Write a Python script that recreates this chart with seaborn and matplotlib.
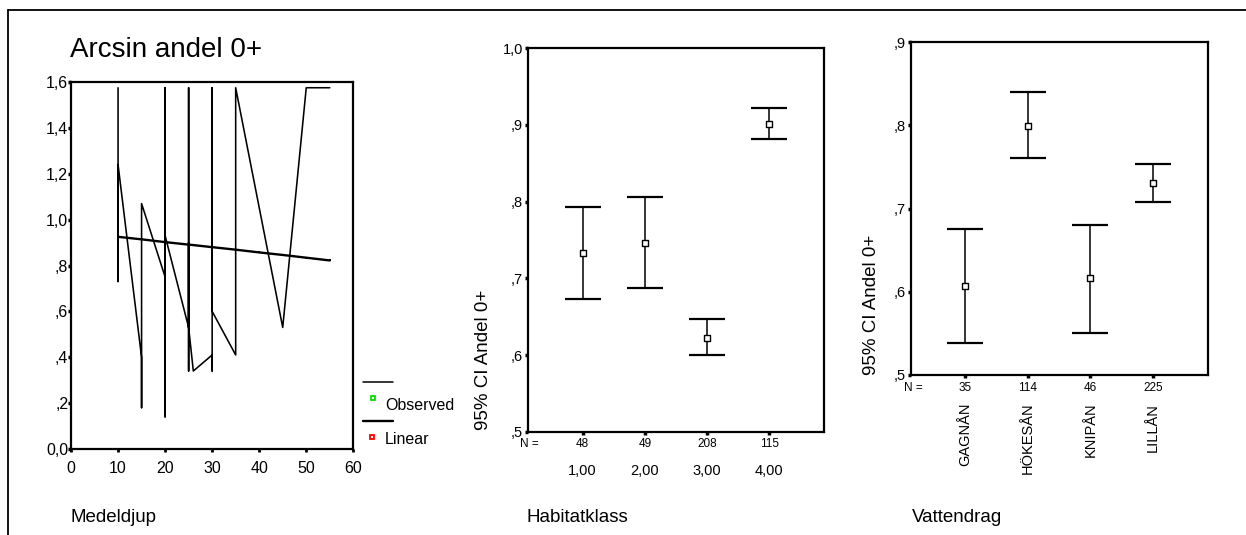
import numpy as np
import pandas as pd
import matplotlib
matplotlib.use("Agg")
import matplotlib.pyplot as plt
from matplotlib.lines import Line2D
import seaborn as sns

# ---------------- data ----------------
# Panel 1: observed arcsin share vs mean depth (connected in data order, SPSS curve-fit style)
depth_obs = [10, 10, 10,
             15, 15, 15, 15,
             20, 20, 20, 20, 20, 20,
             25, 25, 25, 25, 25,
             26,
             30, 30, 30, 30,
             35, 35,
             45, 50, 55]
arcsin_obs = [1.575, 0.73, 1.24,
              0.40, 0.18, 0.85, 1.07,
              0.75, 1.575, 0.30, 0.14, 1.10, 0.93,
              0.53, 1.575, 0.34, 0.90, 0.53,
              0.34,
              0.41, 0.34, 1.575, 0.60,
              0.41, 1.575,
              0.53, 1.575, 1.575]
# Linear fit values
depth_fit = [10, 15, 20, 25, 26, 30, 35, 40, 45, 50, 55]
arcsin_fit = [0.925, 0.914, 0.902, 0.891, 0.889, 0.880, 0.869, 0.857, 0.846, 0.834, 0.822]
p1_yticks = [0.0, 0.2, 0.4, 0.6, 0.8, 1.0, 1.2, 1.4, 1.6]
p1_yticklabels = ["0,0", ",2", ",4", ",6", ",8", "1,0", "1,2", "1,4", "1,6"]
p1_xticks = [0, 10, 20, 30, 40, 50, 60]

# Panel 2: 95% CI by habitat class
habitat_labels = ["1,00", "2,00", "3,00", "4,00"]
habitat_n = [48, 49, 208, 115]
habitat_mean = [0.7335, 0.7465, 0.6226, 0.9017]
habitat_lo = [0.6735, 0.6870, 0.6000, 0.8822]
habitat_hi = [0.7930, 0.8065, 0.6470, 0.9217]
p2_yticks = [0.5, 0.6, 0.7, 0.8, 0.9, 1.0]
p2_yticklabels = [",5", ",6", ",7", ",8", ",9", "1,0"]

# Panel 3: 95% CI by stream
river_labels = ["GAGNÅN", "HÖKESÅN", "KNIPÅN", "LILLÅN"]
river_n = [35, 114, 46, 225]
river_mean = [0.6070, 0.7994, 0.6162, 0.7305]
river_lo = [0.5389, 0.7609, 0.5501, 0.7080]
river_hi = [0.6756, 0.8407, 0.6804, 0.7537]
p3_yticks = [0.5, 0.6, 0.7, 0.8, 0.9]
p3_yticklabels = [",5", ",6", ",7", ",8", ",9"]

# ---------------- style ----------------
sns.set_theme(style="white")
plt.rcParams["font.family"] = ["Liberation Sans", "DejaVu Sans"]
plt.rcParams["text.color"] = "black"
plt.rcParams["axes.labelcolor"] = "black"
plt.rcParams["xtick.color"] = "black"
plt.rcParams["ytick.color"] = "black"

W, H = 1246, 535
fig = plt.figure(figsize=(W / 100, H / 100), dpi=100)
fig.patch.set_facecolor("white")


def fx(px):
    return px / W


def fy(py):
    return 1 - py / H


def style_axes(ax):
    for s in ax.spines.values():
        s.set_visible(True)
        s.set_color("black")
        s.set_linewidth(1.6)
    ax.set_facecolor("white")
    ax.grid(False)


# ---------------- panel 1 ----------------
ax1 = fig.add_axes([fx(71), fy(449), (353.3 - 71) / W, (449 - 82) / H])
style_axes(ax1)
sns.lineplot(x=depth_obs, y=arcsin_obs, sort=False, estimator=None, color="black",
             linewidth=1.15, ax=ax1, legend=False)
sns.lineplot(x=depth_fit, y=arcsin_fit, sort=False, estimator=None, color="black",
             linewidth=1.7, marker="s", markersize=1.6, markeredgewidth=0,
             ax=ax1, legend=False)
ax1.set_xlim(0, 60)
ax1.set_ylim(0, 1.6)
ax1.set_xticks(p1_xticks)
ax1.set_xticklabels([str(t) for t in p1_xticks])
ax1.set_yticks(p1_yticks)
ax1.set_yticklabels(p1_yticklabels)
ax1.tick_params(axis="x", bottom=True, direction="out", length=2.5, width=2.0,
                labelsize=11.5, pad=6.0)
ax1.tick_params(axis="y", left=True, direction="out", length=2.5, width=2.5,
                labelsize=11.5, pad=-0.5)
ax1.set_xlabel("")
ax1.set_ylabel("")

fig.text(fx(70), fy(57), "Arcsin andel 0+", fontsize=20, va="baseline", ha="left")
fig.text(fx(71), fy(522.5), "Medeldjup", fontsize=13.5, va="baseline", ha="left")

# legend (SPSS style)
fig.add_artist(Line2D([fx(363), fx(393)], [fy(382), fy(382)], color="black", lw=1.1))
fig.add_artist(Line2D([fx(373)], [fy(398)], marker="s", markersize=3.2,
                      mfc="white", mec="#00e000", mew=1.3, ls="none"))
fig.text(fx(385), fy(405), "Observed", fontsize=11.5, va="center", ha="left")
fig.add_artist(Line2D([fx(363), fx(393)], [fy(421), fy(421)], color="black", lw=1.7))
fig.add_artist(Line2D([fx(372)], [fy(437)], marker="s", markersize=3.2,
                      mfc="white", mec="#ff0000", mew=1.3, ls="none"))
fig.text(fx(385), fy(440), "Linear", fontsize=11.5, va="center", ha="left")


# ---------------- CI panels ----------------
def ci_panel(ax, labels, n, mean, lo, hi, yticks, yticklabels, ylim, xlim,
             label_rot, xpad, npad):
    style_axes(ax)
    pos = np.arange(len(labels))
    mean_a = np.array(mean)
    err = [mean_a - np.array(lo), np.array(hi) - mean_a]
    ax.errorbar(pos, mean_a, yerr=err, fmt="none", ecolor="black",
                elinewidth=1.1, capsize=13.3, capthick=1.6, zorder=2)
    sns.scatterplot(x=pos, y=mean_a, marker="s", s=22, color="white",
                    edgecolor="black", linewidth=1.0, zorder=3, ax=ax, legend=False)
    ax.set_xlim(*xlim)
    ax.set_ylim(*ylim)
    ax.set_xticks(pos)
    ax.set_xticklabels(labels, rotation=label_rot)
    ax.set_yticks(yticks)
    ax.set_yticklabels(yticklabels)
    ax.tick_params(axis="x", bottom=True, direction="out", length=2.5, width=2.5,
                   labelsize=10.5, pad=xpad)
    ax.tick_params(axis="y", left=True, direction="out", length=2.5, width=2.5,
                   labelsize=10.5, pad=1)
    ax.set_xlabel("")
    ax.set_ylabel("")
    for i, v in enumerate(n):
        ax.annotate(str(v), xy=(i, ylim[0]), xycoords="data",
                    xytext=(0, -npad), textcoords="offset points",
                    ha="center", va="center", fontsize=8.5)
    ax.annotate("N =", xy=(0, 0), xycoords="axes fraction",
                xytext=(-5.2, -npad), textcoords="offset points",
                ha="left", va="center", fontsize=8.5)


ax2 = fig.add_axes([fx(527.7), fy(431.7), (824 - 527.7) / W, (431.7 - 48.3) / H])
ci_panel(ax2, habitat_labels, habitat_n, habitat_mean, habitat_lo, habitat_hi,
         p2_yticks, p2_yticklabels, (0.5, 1.0), (-0.884, 3.88), 0, 21.0, 8.9)
fig.text(fx(483), fy(430), "95% CI Andel 0+", rotation=90, fontsize=13.5,
         ha="center", va="bottom")
fig.text(fx(526.7), fy(521.7), "Habitatklass", fontsize=13.5, va="baseline", ha="left")

ax3 = fig.add_axes([fx(911), fy(375), (1208.3 - 911) / W, (375 - 42.3) / H])
ci_panel(ax3, river_labels, river_n, river_mean, river_lo, river_hi,
         p3_yticks, p3_yticklabels, (0.5, 0.9), (-0.861, 3.88), 90, 17.5, 9.6)
fig.text(fx(872), fy(375), "95% CI Andel 0+", rotation=90, fontsize=13.5,
         ha="center", va="bottom")
fig.text(fx(911.7), fy(521.7), "Vattendrag", fontsize=13.5, va="baseline", ha="left")

# outer frame (top and left edges visible in the reference)
fig.add_artist(Line2D([fx(8.2), fx(8.2)], [fy(10), 0], color="black", lw=1.3))
fig.add_artist(Line2D([fx(8.2), 1.0], [fy(10), fy(10)], color="black", lw=1.3))

fig.savefig("out.png", dpi=100, facecolor="white")
